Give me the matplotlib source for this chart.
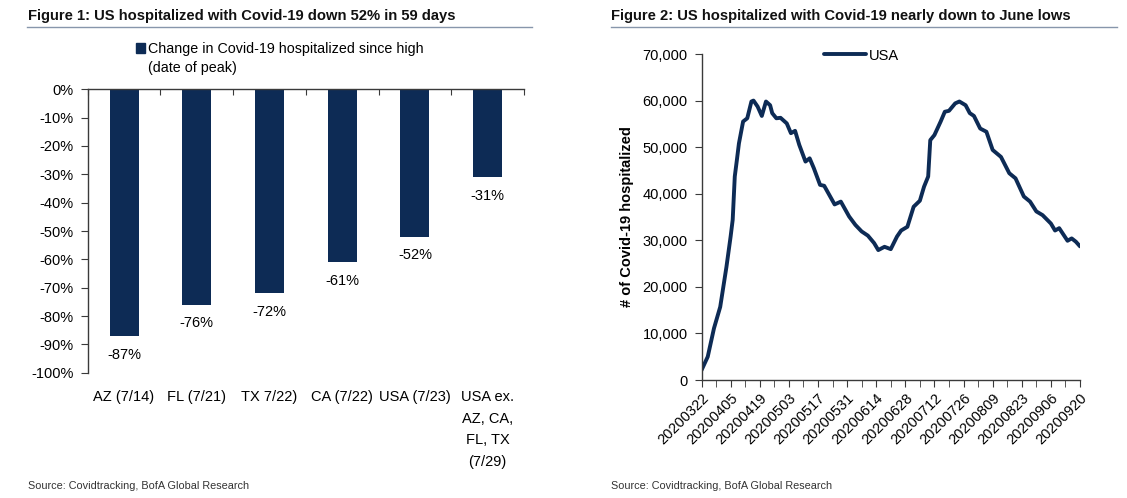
import matplotlib
matplotlib.use("Agg")
import matplotlib.pyplot as plt
from matplotlib.patches import Rectangle
from matplotlib.lines import Line2D
import numpy as np
import pandas as pd

# ---------------- data ----------------
bar_categories = ["AZ (7/14)", "FL (7/21)", "TX 7/22)", "CA (7/22)", "USA (7/23)",
                  "USA ex.\nAZ, CA,\nFL, TX\n(7/29)"]
bar_values = [-87, -76, -72, -61, -52, -31]
bar_series_name = "Change in Covid-19 hospitalized since high\n(date of peak)"

line_dates = ["2020-03-22", "2020-03-25", "2020-03-28", "2020-03-31", "2020-04-03",
              "2020-04-05", "2020-04-06", "2020-04-07", "2020-04-08", "2020-04-09",
              "2020-04-11", "2020-04-13", "2020-04-15", "2020-04-16", "2020-04-18",
              "2020-04-20", "2020-04-22", "2020-04-24", "2020-04-25", "2020-04-27",
              "2020-04-29", "2020-05-02", "2020-05-04", "2020-05-06", "2020-05-08",
              "2020-05-11", "2020-05-13", "2020-05-15", "2020-05-18", "2020-05-20",
              "2020-05-22", "2020-05-25", "2020-05-28", "2020-06-01", "2020-06-04",
              "2020-06-07", "2020-06-10", "2020-06-13", "2020-06-15", "2020-06-18",
              "2020-06-21", "2020-06-24", "2020-06-26", "2020-06-29", "2020-07-02",
              "2020-07-05", "2020-07-07", "2020-07-09", "2020-07-10", "2020-07-12",
              "2020-07-15", "2020-07-17", "2020-07-19", "2020-07-22", "2020-07-24",
              "2020-07-27", "2020-07-29", "2020-07-31", "2020-08-03", "2020-08-06",
              "2020-08-09", "2020-08-13", "2020-08-17", "2020-08-20", "2020-08-24",
              "2020-08-27", "2020-08-30", "2020-09-02", "2020-09-06", "2020-09-08",
              "2020-09-10", "2020-09-14", "2020-09-16", "2020-09-18", "2020-09-20"]
line_values = [2100, 5000, 11100, 15700, 24300,
               30800, 34400, 43700, 47200, 50800,
               55500, 56200, 59800, 60000, 58700,
               56700, 59800, 59000, 57300, 56200,
               56300, 55100, 53000, 53500, 50500,
               46900, 47600, 45500, 41900, 41700,
               40100, 37700, 38300, 35100, 33300,
               31900, 31000, 29400, 27900, 28600,
               28100, 30800, 32100, 32900, 37200,
               38500, 41500, 43700, 51500, 52600,
               55500, 57600, 57800, 59400, 59800,
               59000, 57300, 56700, 54000, 53300,
               49400, 47900, 44400, 43300, 39400,
               38300, 36200, 35400, 33600, 32100,
               32600, 29900, 30400, 29700, 28700]
line_series_name = "USA"
x_start, x_end = "2020-03-22", "2020-09-20"

title1 = "Figure 1: US hospitalized with Covid-19 down 52% in 59 days"
title2 = "Figure 2: US hospitalized with Covid-19 nearly down to June lows"
ylabel2 = "# of Covid-19 hospitalized"
source = "Source: Covidtracking, BofA Global Research"

# ---------------- style ----------------
NAVY = "#0d2b55"
AXC = "#3a3a3a"
plt.rcParams["font.family"] = ["Liberation Sans", "DejaVu Sans"]
plt.rcParams["font.size"] = 10

W, H = 1127, 498
fig = plt.figure(figsize=(W / 100, H / 100), dpi=100)

def fx(px):
    return px / W

def fy(py):
    return 1 - py / H

# ---------------- titles & rules ----------------
fig.text(fx(28), fy(16), title1, fontsize=10.6, fontweight="bold",
         va="center", ha="left", color="#111111")
fig.text(fx(611), fy(16), title2, fontsize=10.6, fontweight="bold",
         va="center", ha="left", color="#111111")
fig.add_artist(Line2D([fx(27), fx(532)], [fy(27), fy(27)], color="#8796ab", lw=1))
fig.add_artist(Line2D([fx(611), fx(1117)], [fy(27), fy(27)], color="#8796ab", lw=1))

fig.text(fx(28), fy(486), source, fontsize=7.8, color="#333333",
         va="center", ha="left")
fig.text(fx(611), fy(486), source, fontsize=7.8, color="#333333",
         va="center", ha="left")

# ---------------- left bar chart ----------------
ax1 = fig.add_axes([fx(87.7), fy(372.7), fx(524) - fx(87.7), fy(89.3) - fy(372.7)])
x = np.arange(len(bar_categories))
bars = ax1.bar(x, bar_values, width=0.4, color=NAVY, zorder=2)
ax1.set_xlim(-0.5, len(bar_categories) - 0.5)
ax1.set_ylim(-100, 0)
ax1.set_yticks(np.arange(-100, 1, 10))
ax1.yaxis.set_major_formatter(plt.FuncFormatter(lambda v, p: f"{v:.0f}%"))
ax1.spines["top"].set_visible(False)
ax1.spines["right"].set_visible(False)
ax1.spines["bottom"].set_position(("data", 0))
ax1.spines["bottom"].set_zorder(3)
for s in ("left", "bottom"):
    ax1.spines[s].set_color(AXC)
    ax1.spines[s].set_linewidth(1)
ax1.set_xticks(np.arange(-0.5, len(bar_categories), 1.0))
ax1.set_xticklabels([])
ax1.tick_params(axis="x", direction="out", length=4, color=AXC)
ax1.tick_params(axis="y", direction="out", length=5, color=AXC, labelsize=10.5, pad=5)
ax1.bar_label(bars, labels=[f"{v}%" for v in bar_values], padding=8.5, fontsize=10.5)
for i, lab in enumerate(bar_categories):
    ax1.annotate(lab, xy=(i, -100), xycoords="data", xytext=(0, -12.5),
                 textcoords="offset points", ha="center", va="top",
                 fontsize=10.5, linespacing=1.7)

# left legend (manual)
fig.add_artist(Rectangle((fx(136), fy(53)), fx(9), fy(43) - fy(53),
                         transform=fig.transFigure, color=NAVY))
fig.text(fx(148), fy(41.5), bar_series_name, fontsize=10.3, va="top", ha="left",
         linespacing=1.5)

# ---------------- right line chart ----------------
dates = pd.to_datetime(line_dates)
ax2 = fig.add_axes([fx(701.5), fy(380), fx(1080) - fx(701.5), fy(54) - fy(380)])
ax2.plot(dates, line_values, color=NAVY, lw=2.8, solid_capstyle="round",
         solid_joinstyle="round", label=line_series_name)
ax2.set_xlim(pd.Timestamp(x_start), pd.Timestamp(x_end))
ax2.set_ylim(0, 70000)
ax2.set_yticks(np.arange(0, 70001, 10000))
ax2.yaxis.set_major_formatter(plt.FuncFormatter(lambda v, p: f"{v:,.0f}"))
major = pd.date_range(x_start, x_end, freq="14D")
minor = pd.date_range(x_start, x_end, freq="7D")
ax2.set_xticks(major)
ax2.set_xticks(minor, minor=True)
ax2.set_xticklabels([d.strftime("%Y%m%d") for d in major], rotation=45,
                    ha="right", rotation_mode="anchor")
ax2.spines["top"].set_visible(False)
ax2.spines["right"].set_visible(False)
for s in ("left", "bottom"):
    ax2.spines[s].set_color(AXC)
    ax2.spines[s].set_linewidth(1)
ax2.tick_params(axis="x", which="both", direction="out", length=5, color=AXC,
                labelsize=10.5, pad=3)
ax2.tick_params(axis="y", direction="out", length=5, color=AXC, labelsize=10.5, pad=5)
ax2.set_ylabel(ylabel2, fontsize=10.5, fontweight="bold", labelpad=6)
ax2.legend(loc="upper left", bbox_to_anchor=(fx(824), fy(48.5)),
           bbox_transform=fig.transFigure, frameon=False, fontsize=10.5,
           handlelength=2.9, handletextpad=0.15, borderpad=0, borderaxespad=0)

fig.savefig("out.png", dpi=100)
